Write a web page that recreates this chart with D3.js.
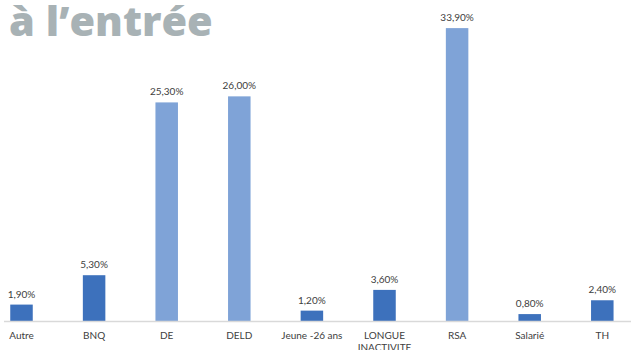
<!DOCTYPE html>
<html>
<head>
<meta charset="utf-8">
<script src="https://cdn.jsdelivr.net/npm/d3@7/dist/d3.min.js"></script>
<style>
  html, body { margin: 0; padding: 0; background: #fff; }
  svg { display: block; }
</style>
</head>
<body>
<svg id="chart" width="631" height="350"></svg>
<script>
// Répartition des publics à l'entrée
const categories = ["Autre", "BNQ", "DE", "DELD", "Jeune -26 ans", "LONGUE\nINACTIVITE", "RSA", "Salarié", "TH"];
const values = [1.9, 5.3, 25.3, 26.0, 1.2, 3.6, 33.9, 0.8, 2.4];
const valueLabels = ["1,90%", "5,30%", "25,30%", "26,00%", "1,20%", "3,60%", "33,90%", "0,80%", "2,40%"];
const highlighted = ["DE", "DELD", "RSA"];
const title = "à l\u2019entrée";

const svg = d3.select("#chart");
const baseline = 321;

const x = d3.scaleBand()
  .domain(categories)
  .range([-14.8, 638.6])
  .paddingInner(0.69)
  .paddingOuter(0.345);

const y = d3.scaleLinear()
  .domain([0, 35])
  .range([baseline, baseline - 35 * 8.64]);

// title
svg.append("text")
  .attr("x", 9)
  .attr("y", 36)
  .attr("font-family", "Open Sans")
  .attr("font-weight", 800)
  .attr("font-size", 41.5)
  .attr("fill", "#a8b2b5")
  .text(title);

// bars
svg.append("g").selectAll("rect")
  .data(categories)
  .join("rect")
  .attr("x", d => x(d))
  .attr("width", x.bandwidth())
  .attr("y", (d, i) => y(values[i]))
  .attr("height", (d, i) => baseline - y(values[i]))
  .attr("fill", d => highlighted.includes(d) ? "#7fa3d7" : "#3d71bc");

// baseline axis
svg.append("line")
  .attr("x1", 4).attr("x2", 631)
  .attr("y1", baseline + 0.5).attr("y2", baseline + 0.5)
  .attr("stroke", "#d9d9d9")
  .attr("stroke-width", 1.5);

// value labels
svg.append("g").selectAll("text")
  .data(categories)
  .join("text")
  .attr("x", d => x(d) + x.bandwidth() / 2)
  .attr("y", (d, i) => y(values[i]) - 7)
  .attr("text-anchor", "middle")
  .attr("font-family", "Lato")
  .attr("font-size", 10)
  .attr("fill", "#404040")
  .text((d, i) => valueLabels[i]);

// category labels
const cat = svg.append("g").selectAll("text")
  .data(categories)
  .join("text")
  .attr("x", d => x(d) + x.bandwidth() / 2)
  .attr("y", 339)
  .attr("text-anchor", "middle")
  .attr("font-family", "Lato")
  .attr("font-size", 10)
  .attr("fill", "#404040");
cat.selectAll("tspan")
  .data(d => d.split("\n").map(t => ({ t, parent: d })))
  .join("tspan")
  .attr("x", d => x(d.parent) + x.bandwidth() / 2)
  .attr("dy", (d, i) => i === 0 ? 0 : 12)
  .text(d => d.t);
</script>
</body>
</html>
